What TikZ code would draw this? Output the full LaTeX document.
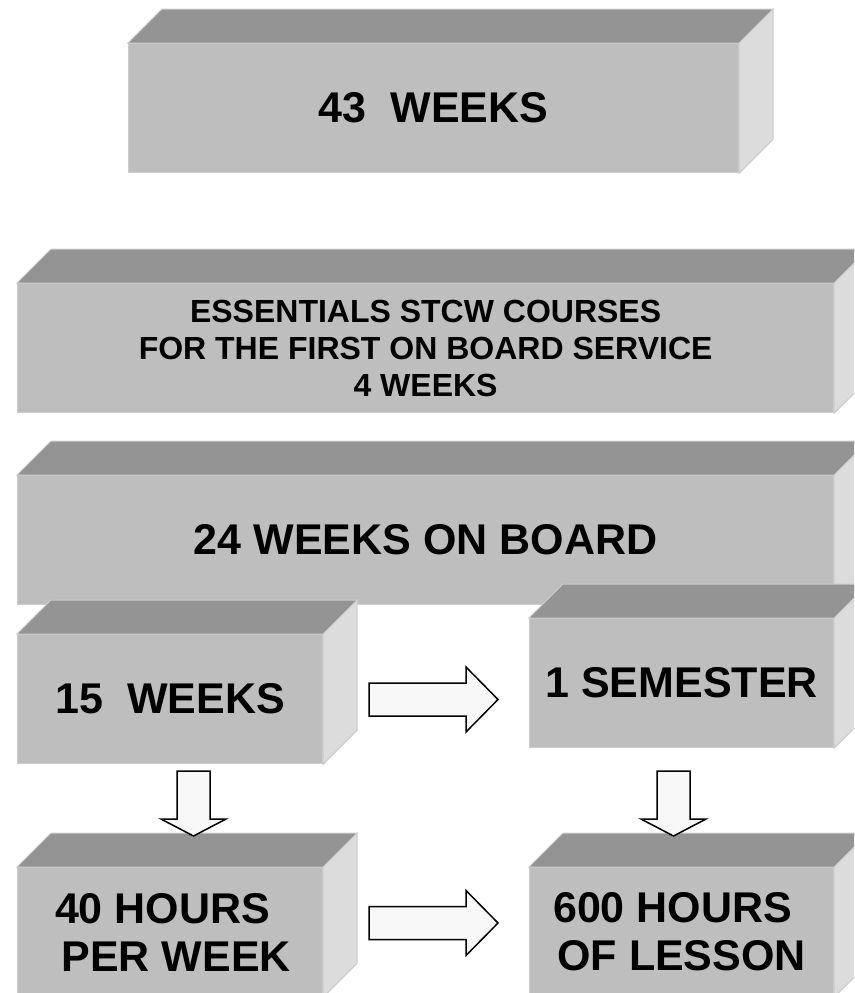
\documentclass[tikz,border=0pt]{standalone}
\usepackage{fontspec}
\setmainfont{Liberation Sans}
\definecolor{frontgray}{RGB}{190,190,190}
\definecolor{topgray}{RGB}{148,148,148}
\definecolor{sidegray}{RGB}{220,220,220}
\definecolor{edgegray}{RGB}{204,204,204}
\definecolor{arrowwhite}{RGB}{248,248,248}
\begin{document}
\begin{tikzpicture}[x=1pt,y=-1pt]
\tikzstyle{fr}=[rectangle,fill=frontgray,draw=edgegray,line width=1.2pt,inner sep=0pt,minimum height=129pt,anchor=north west,align=center,font=\bfseries\fontsize{43}{48}\selectfont];
\tikzstyle{tp}=[fill=topgray,draw=edgegray,line width=1pt]
\tikzstyle{sd}=[fill=sidegray,draw=edgegray,line width=1pt]
\tikzstyle{ar}=[fill=arrowwhite,draw=black,line width=1.5pt,line join=miter]
\useasboundingbox (0,0) rectangle (854,993);
\clip (0,0) rectangle (854,993);
\node [fr,minimum width=610pt] (total) at (128,43) {43\ \ WEEKS};
\node [fr,minimum width=816pt,font=\bfseries\fontsize{32}{37}\selectfont] (stcw) at (17,283) {ESSENTIALS STCW COURSES\\FOR THE FIRST ON BOARD SERVICE\\4 WEEKS};
\node [fr,minimum width=816pt] (board) at (17,475) {24 WEEKS ON BOARD};
\node [fr,minimum width=305pt] (fifteen) at (17,634) {15\ \ WEEKS};
\node [fr,minimum width=304pt] (sem) at (529,618) {1 SEMESTER};
\node [fr,minimum width=305pt] (hours) at (17,867) {40 HOURS\hspace*{15pt}\\\hspace*{12pt}PER WEEK};
\node [fr,minimum width=304pt] (lesson) at (529,867) {600 HOURS\hspace*{18pt}\\OF LESSON};
% top and side of each block
\foreach \n in {total,stcw,board,fifteen,sem,hours,lesson}{
  \draw [tp] (\n.north west) -- ++(34,-34) -- ([shift={(34,-34)}]\n.north east) -- (\n.north east) -- cycle;
  \draw [sd] (\n.north east) -- ++(34,-34) -- ([shift={(34,-34)}]\n.south east) -- (\n.south east) -- cycle;
}
% block arrows
\coordinate (r1) at (369,699.5);
\coordinate (r2) at (369,923);
\coordinate (d1) at (193.5,771);
\coordinate (d2) at (673.5,771);
\foreach \a in {r1,r2}
  \draw [ar] ([shift={(0,-16.5)}]\a) -- ++(97,0) -- ++(0,-16) -- ++(32,32.5) -- ++(-32,32.5) -- ++(0,-16) -- ++(-97,0) -- cycle;
\foreach \a in {d1,d2}
  \draw [ar] ([shift={(-16.5,0)}]\a) -- ++(0,48) -- ++(-16,0) -- ++(32.5,17) -- ++(32.5,-17) -- ++(-16,0) -- ++(0,-48) -- cycle;
\end{tikzpicture}
\end{document}
